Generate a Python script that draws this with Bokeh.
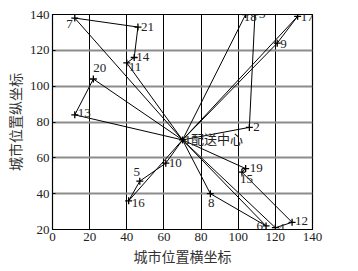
from bokeh.plotting import figure
from bokeh.models import FixedTicker
from bokeh.core.properties import value
from bokeh.embed import file_html
from bokeh.resources import INLINE

# ---- data ----
city_labels = ["1配送中心", "2", "3", "4", "5", "6", "7", "8", "9", "10", "11",
               "12", "13", "14", "15", "16", "17", "18", "19", "20", "21"]
city_x = [70, 106, 109, 120, 47, 115, 12, 85, 121, 61, 40, 129, 12, 44, 102, 41, 132, 104, 104, 22, 46]
city_y = [70, 77, 140, 21, 47, 22, 138, 40, 124, 57, 113, 24, 84, 116, 52, 36, 139, 140, 54, 104, 133]

routes = [
    [1, 7, 21, 14, 11, 1],
    [1, 20, 13, 1],
    [1, 18, 3, 2, 1],
    [1, 9, 17, 1],
    [1, 10, 5, 16, 1],
    [1, 8, 6, 1],
    [1, 19, 15, 12, 4, 1],
]

x_ticks = [0, 20, 40, 60, 80, 100, 120, 140]
y_ticks = [20, 40, 60, 80, 100, 120, 140]

# ---- styling: label offsets (screen px) per city index ----
label_style = {
    1: (2, 0, "left"), 2: (4, 0, "left"), 3: (4, -1, "left"), 4: (3, 0, "left"),
    5: (-3, -9, "center"), 6: (-3, 0, "right"), 7: (-2, 6, "right"), 8: (1, 9, "center"),
    9: (3, 1, "left"), 10: (3, 0, "left"), 11: (2, 4, "left"), 12: (3, -1, "left"),
    13: (3, -2, "left"), 14: (2, -1, "left"), 15: (-2, 7, "left"), 16: (3, 2, "left"),
    17: (3, 1, "left"), 18: (-2, 2, "left"), 19: (4, -1, "left"), 20: (0, -11, "left"),
    21: (3, 0, "left"),
}

p = figure(frame_width=260, frame_height=215, x_range=(0, 140), y_range=(20, 140),
           output_backend="svg", toolbar_location=None,
           min_border_left=52, min_border_right=25, min_border_top=14, min_border_bottom=26,
           background_fill_color="white", border_fill_color="white")

p.outline_line_color = "black"
p.outline_line_width = 1.2
p.xgrid.ticker = FixedTicker(ticks=x_ticks)
p.ygrid.ticker = FixedTicker(ticks=y_ticks)
p.xgrid.grid_line_color = "black"
p.xgrid.grid_line_width = 1
p.ygrid.grid_line_color = "#8c8c8c"
p.ygrid.grid_line_width = 2

for ax, ticks in ((p.xaxis, x_ticks), (p.yaxis, y_ticks)):
    ax.ticker = FixedTicker(ticks=ticks)
    ax.major_label_text_font = "Liberation Serif"
    ax.major_label_text_font_size = "13px"
    ax.major_label_text_color = "#222222"
    ax.axis_label_text_font = "Noto Sans CJK SC"
    ax.axis_label_text_font_size = "14px"
    ax.axis_label_text_font_style = "normal"
    ax.axis_label_text_color = "#333333"
    ax.major_tick_in = 3
    ax.major_tick_out = 0
    ax.minor_tick_line_color = None
    ax.axis_line_color = "black"
    ax.major_label_standoff = 3
    ax.axis_label_standoff = 2

p.xaxis.axis_label = "城市位置横坐标"
p.yaxis.axis_label = "城市位置纵坐标"

for r in routes:
    p.line([city_x[i - 1] for i in r], [city_y[i - 1] for i in r],
           line_color="black", line_width=1)

p.scatter(city_x, city_y, marker="cross", size=7, line_color="black", line_width=1.3)

for idx in range(1, len(city_labels) + 1):
    dx, dy, align = label_style[idx]
    p.text([city_x[idx - 1]], [city_y[idx - 1]], text=[city_labels[idx - 1]],
           x_offset=dx, y_offset=dy, text_align=align, text_baseline="middle",
           text_font=value("Liberation Serif, Noto Sans CJK SC"),
           text_font_size="13px", text_color="#222222")

open("out.html", "w").write(file_html(p, INLINE))
